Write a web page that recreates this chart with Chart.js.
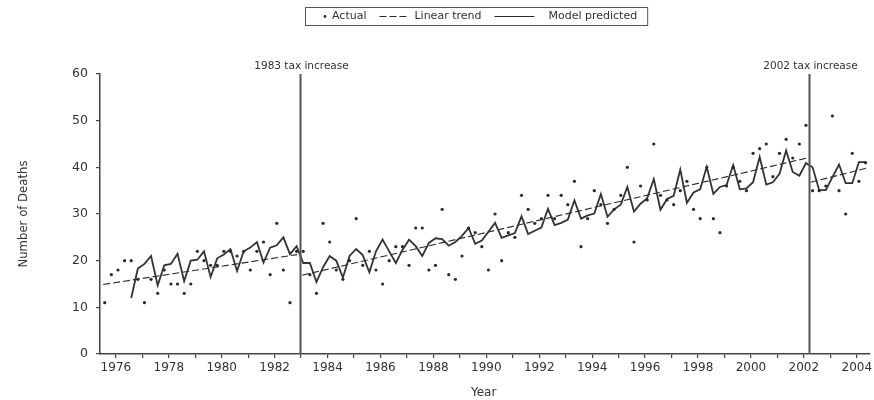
<!DOCTYPE html>
<html>
<head>
<meta charset="utf-8">
<script src="https://cdn.jsdelivr.net/npm/chart.js@4/dist/chart.umd.min.js"></script>
<style>
  html, body { margin: 0; padding: 0; background: #fff; }
  #wrap { width: 874px; height: 400px; position: relative; }
</style>
</head>
<body>
<div id="wrap"><canvas id="chart"></canvas></div>
<script>
// quarterly series, first value is 1975 Q3
const firstYear = 1975;
const firstQuarter = 3;
const quarterOffset = 0.08; // points sit a little into each quarter

const actualDeaths = [
  11, 17,
  18, 20, 20, 16,  11, 16, 13, 18,  15, 15, 13, 15,  22, 20, 19, 19,
  22, 22, 21, 22,  18, 22, 24, 17,  28, 18, 11, 22,  22, 17, 13, 28,
  24, 18, 16, 20,  29, 19, 22, 18,  15, 20, 23, 23,  19, 27, 27, 18,
  19, 31, 17, 16,  21, 27, 26, 23,  18, 30, 20, 26,  25, 34, 31, 28,
  29, 34, 29, 34,  32, 37, 23, 29,  35, 32, 28, 31,  34, 40, 24, 36,
  33, 45, 34, 33,  32, 35, 37, 31,  29, 40, 29, 26,  36, 40, 37, 35,
  43, 44, 45, 38,  43, 46, 42, 45,  49, 35, 35, 36,  51, 35, 30, 43,
  37, 41
];

const modelPredicted = [
  null, null,
  null, null, 12, 18.3,  19.3, 21, 14.7, 19,  19.3, 21.5, 15.6, 20,  20.2, 22, 16.5, 20.5,
  21.3, 22.5, 17.8, 22,  22.8, 24, 19.6, 22.8,  23.3, 25, 21.4, 23.1,  19.5, 19.5, 15.4, 18.6,
  21, 20, 16.4, 21,  22.5, 21.2, 17.5, 22,  24.5, 22, 19.5, 22.3,  24.5, 23.1, 21, 23.8,
  24.8, 24.6, 23.2, 24,  25.3, 27, 23.6, 24.3,  26.2, 28.1, 24.9, 25.4,  25.9, 29.5, 25.7, 26.4,
  27.1, 31.1, 27.6, 28.1,  28.8, 32.9, 29, 29.7,  30.1, 34.3, 29.4, 31,  32, 35.8, 30.5, 32.2,
  33.4, 37.5, 30.9, 33.2,  33.9, 39.5, 32.4, 34.6,  35.3, 40.1, 34.3, 35.8,  36.2, 40.5, 35.3, 35.5,
  36.8, 42.2, 36.3, 36.8,  38.6, 43.6, 39, 38.2,  40.9, 40, 35.1, 35.1,  37.9, 40.6, 36.6, 36.6,
  41.1, 41.1
];

// linear trend, one straight piece per period between tax increases
const trendStartYear = [1975.52, 1983.05, 2002.26];
const trendEndYear = [1982.85, 2002.13, 2004.42];
const trendStartValue = [14.9, 16.9, 36.8];
const trendEndValue = [21.3, 42.0, 39.9];

const taxYears = [1982.95, 2002.2];
const taxLabels = ["1983 tax increase", "2002 tax increase"];

const yearTicks = [
  1976, 1977, 1978, 1979, 1980, 1981, 1982, 1983, 1984, 1985, 1986, 1987, 1988, 1989, 1990,
  1991, 1992, 1993, 1994, 1995, 1996, 1997, 1998, 1999, 2000, 2001, 2002, 2003, 2004
];
const yTicks = [0, 10, 20, 30, 40, 50, 60];

const quarterYear = (i) => {
  const q = firstQuarter - 1 + i;
  return firstYear + Math.floor(q / 4) + (q % 4) / 4 + quarterOffset;
};

const actualPoints = actualDeaths.map((v, i) => ({ x: quarterYear(i), y: v }));
const modelPoints = modelPredicted.map((v, i) => ({ x: quarterYear(i), y: v }));
const trendPoints = [];
trendStartYear.forEach((s, k) => {
  trendPoints.push({ x: s, y: trendStartValue[k] });
  trendPoints.push({ x: trendEndYear[k], y: trendEndValue[k] });
  trendPoints.push({ x: trendEndYear[k] + 0.01, y: null });
});

const ink = "#2b2b2b";
const axisInk = "#444";
const labelFont = "DejaVu Sans";

// vertical lines for the tax increases, plus the x title
const taxLinesPlugin = {
  id: "taxLines",
  afterDatasetsDraw(chart) {
    const { ctx, chartArea } = chart;
    const xs = chart.scales.x;
    ctx.save();
    taxYears.forEach((yr, k) => {
      const px = Math.round(xs.getPixelForValue(yr)) + 0.5;
      ctx.strokeStyle = "#555";
      ctx.lineWidth = 2;
      ctx.beginPath();
      ctx.moveTo(px, chartArea.top);
      ctx.lineTo(px, chartArea.bottom);
      ctx.stroke();
      ctx.fillStyle = "#333";
      ctx.font = "10.5px " + labelFont;
      ctx.textAlign = "center";
      ctx.textBaseline = "bottom";
      ctx.fillText(taxLabels[k], px + 1, chartArea.top - 2);
    });
    ctx.font = "12px " + labelFont;
    ctx.textAlign = "center";
    ctx.textBaseline = "middle";
    ctx.fillText("Year", xs.getPixelForValue(1989.9), 393);
    ctx.restore();
  },
};

// boxed legend across the top
const boxedLegendPlugin = {
  id: "boxedLegend",
  afterDraw(chart) {
    const ctx = chart.ctx;
    ctx.save();
    ctx.font = "11px " + labelFont;
    ctx.textBaseline = "middle";
    ctx.textAlign = "left";
    const cy = 16.5;
    const left = 305;
    let x = left + 20;
    // Actual
    ctx.fillStyle = ink;
    ctx.beginPath();
    ctx.arc(x, cy, 1.4, 0, Math.PI * 2);
    ctx.fill();
    x += 7;
    ctx.fillStyle = "#333";
    ctx.fillText("Actual", x, cy);
    x += ctx.measureText("Actual").width + 13;
    // Linear trend
    ctx.strokeStyle = ink;
    ctx.lineWidth = 1.2;
    ctx.setLineDash([7, 3]);
    ctx.beginPath();
    ctx.moveTo(x, cy);
    ctx.lineTo(x + 27, cy);
    ctx.stroke();
    ctx.setLineDash([]);
    x += 35;
    ctx.fillText("Linear trend", x, cy);
    x += ctx.measureText("Linear trend").width + 13;
    // Model predicted
    ctx.lineWidth = 1.2;
    ctx.beginPath();
    ctx.moveTo(x, cy);
    ctx.lineTo(x + 40, cy);
    ctx.stroke();
    x += 54;
    ctx.fillText("Model predicted", x, cy);
    x += ctx.measureText("Model predicted").width + 10;
    ctx.strokeStyle = "#555";
    ctx.lineWidth = 1;
    ctx.strokeRect(left + 0.5, 7.5, x - left, 18);
    ctx.restore();
  },
};

const ctx = document.getElementById("chart").getContext("2d");
new Chart(ctx, {
  type: "line",
  data: {
    datasets: [
      {
        label: "Actual",
        data: actualPoints,
        showLine: false,
        pointStyle: "circle",
        pointRadius: 1.6,
        pointBackgroundColor: ink,
        pointBorderWidth: 0,
        order: 0,
      },
      {
        label: "Linear trend",
        data: trendPoints,
        borderColor: ink,
        borderWidth: 1.1,
        borderDash: [7, 3],
        pointRadius: 0,
        spanGaps: false,
        tension: 0,
        order: 2,
      },
      {
        label: "Model predicted",
        data: modelPoints,
        borderColor: "#333",
        borderWidth: 1.8,
        pointRadius: 0,
        spanGaps: false,
        tension: 0,
        order: 1,
      },
    ],
  },
  options: {
    responsive: true,
    maintainAspectRatio: false,
    animation: false,
    devicePixelRatio: 1,
    layout: { padding: { top: 74, right: 0, bottom: 0, left: 0 } },
    plugins: {
      legend: { display: false },
      tooltip: { enabled: false },
    },
    scales: {
      x: {
        type: "linear",
        min: 1975.4,
        max: 2004.5,
        afterBuildTicks: (s) => {
          s.ticks = yearTicks.map((v) => ({ value: v }));
        },
        afterFit: (s) => {
          s.height = 46;
          s.paddingLeft = 0;
          s.paddingRight = 0;
        },
        ticks: {
          autoSkip: false,
          maxRotation: 0,
          padding: 3,
          color: "#333",
          font: { family: labelFont, size: 12 },
          callback: (v) => (v % 2 === 0 ? String(v) : ""),
        },
        grid: { drawOnChartArea: false, drawTicks: true, tickLength: 4, color: axisInk, lineWidth: 1.2 },
        border: { display: true, color: axisInk, width: 1.5 },
      },
      y: {
        min: 0,
        max: 60,
        afterBuildTicks: (s) => {
          s.ticks = yTicks.map((v) => ({ value: v }));
        },
        afterFit: (s) => {
          s.width = 100;
          s.paddingTop = 0;
          s.paddingBottom = 0;
        },
        ticks: {
          padding: 8,
          color: "#333",
          font: { family: labelFont, size: 12.5 },
        },
        grid: { drawOnChartArea: false, drawTicks: true, tickLength: 4, color: axisInk, lineWidth: 1.2 },
        border: { display: true, color: axisInk, width: 1.5 },
        title: {
          display: true,
          text: "Number of Deaths",
          color: "#333",
          font: { family: "'Liberation Sans Narrow', 'DejaVu Sans Condensed', sans-serif", size: 13 },
          padding: { top: 16, bottom: 0 },
        },
      },
    },
  },
  plugins: [taxLinesPlugin, boxedLegendPlugin],
});
</script>
</body>
</html>
